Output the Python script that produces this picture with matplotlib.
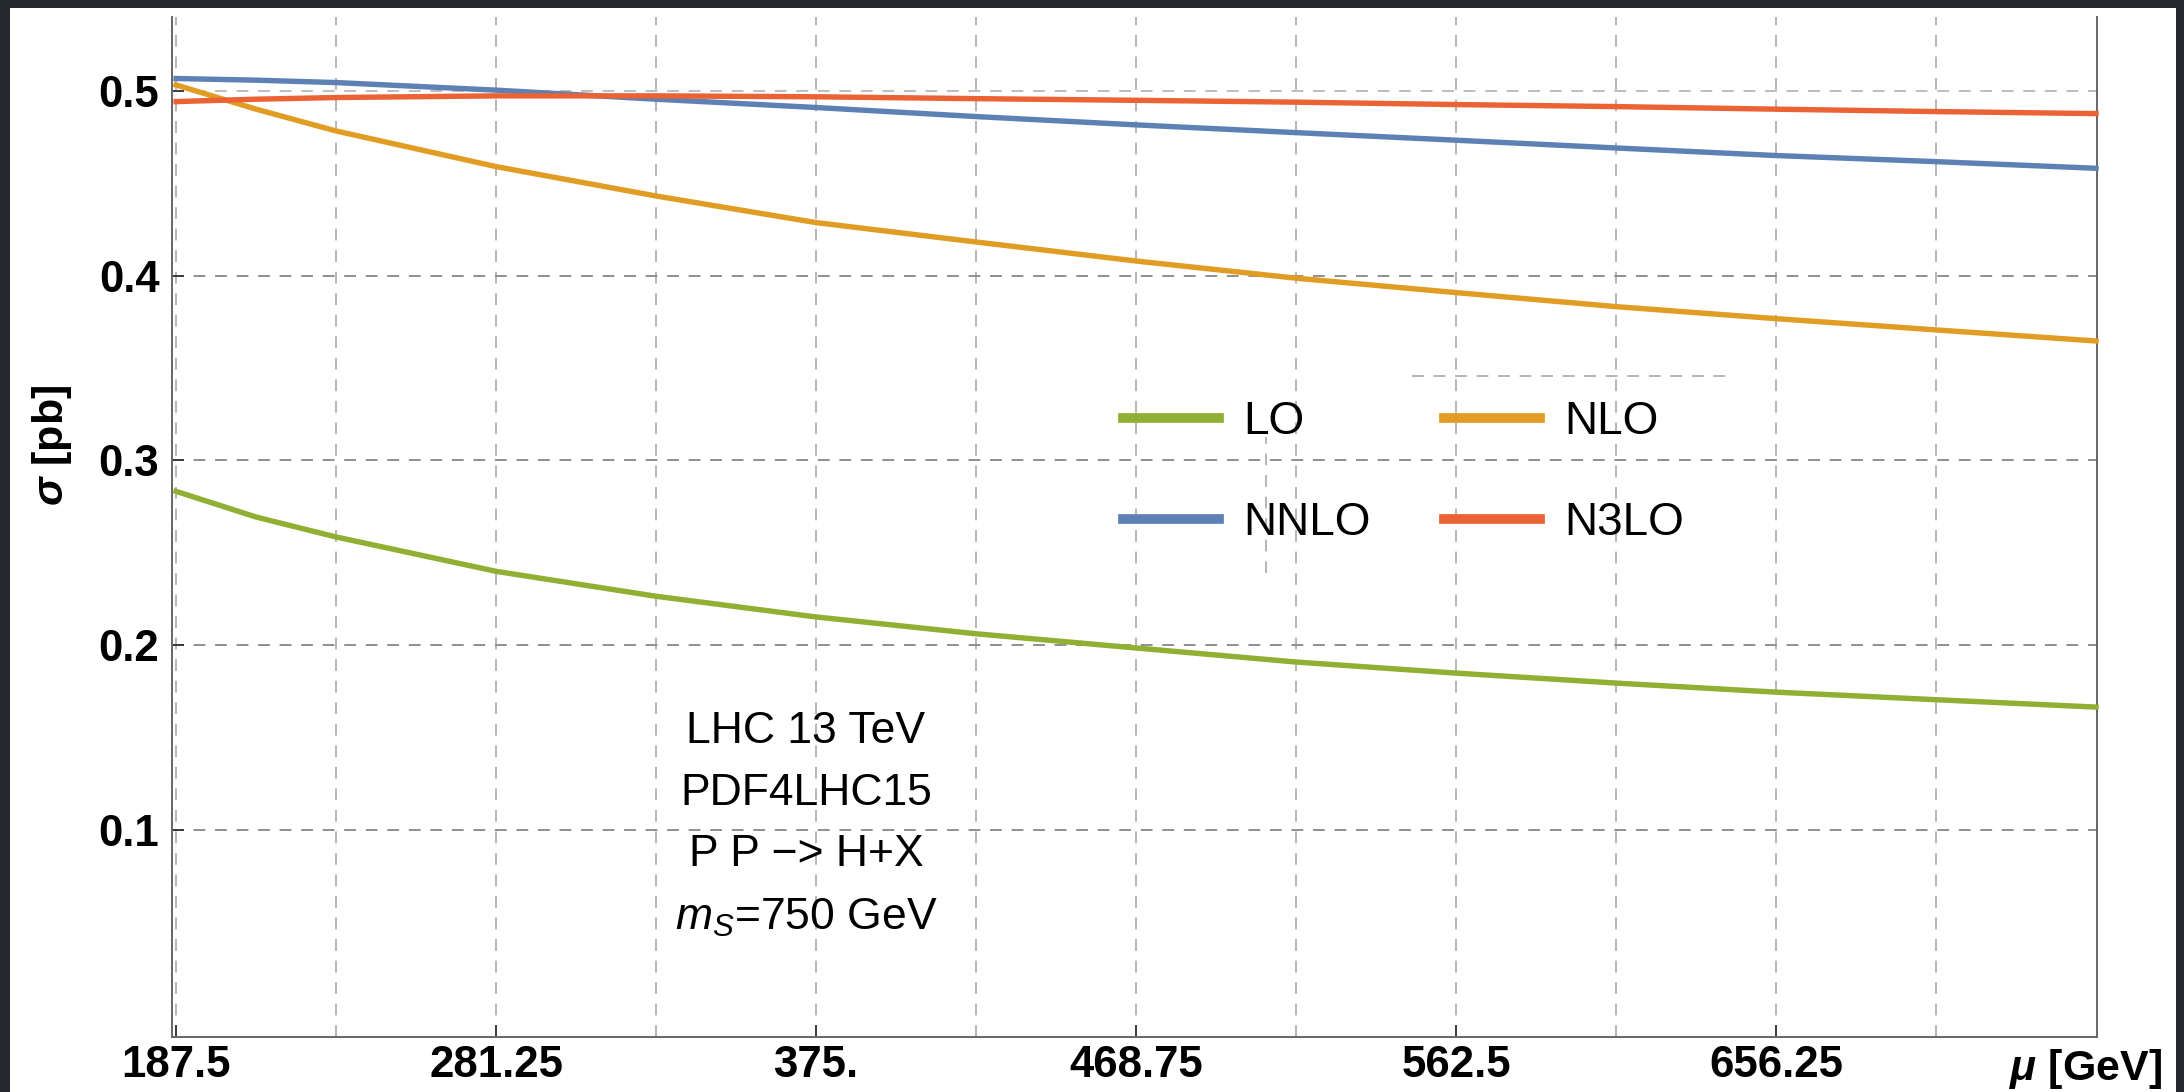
import matplotlib
matplotlib.use("Agg")
import matplotlib.pyplot as plt
from matplotlib.lines import Line2D
from matplotlib.patches import Rectangle

plt.rcParams['font.family'] = ['Liberation Sans', 'DejaVu Sans']
plt.rcParams['mathtext.fontset'] = 'custom'
plt.rcParams['mathtext.rm'] = 'Liberation Sans'
plt.rcParams['mathtext.it'] = 'Liberation Sans:italic'
plt.rcParams['mathtext.bf'] = 'Liberation Sans:italic:bold'
plt.rcParams['lines.scale_dashes'] = False

# scale mu [GeV]
mu = [187.5, 210.9375, 234.375, 281.25, 328.125, 375.0, 421.875, 468.75,
      515.625, 562.5, 609.375, 656.25, 703.125, 750.0]

# cross sections [pb]
lo   = [0.2832, 0.2693, 0.2585, 0.2399, 0.2264, 0.2152, 0.2061, 0.1984,
        0.1908, 0.1848, 0.1794, 0.1745, 0.1704, 0.1664]
nlo  = [0.5032, 0.4901, 0.4783, 0.4590, 0.4431, 0.4287, 0.4182, 0.4079,
        0.3986, 0.3908, 0.3832, 0.3767, 0.3706, 0.3646]
nnlo = [0.5067, 0.5058, 0.5045, 0.5004, 0.4955, 0.4910, 0.4861, 0.4816,
        0.4774, 0.4733, 0.4691, 0.4650, 0.4617, 0.4581]
n3lo = [0.4942, 0.4955, 0.4964, 0.4973, 0.4973, 0.4968, 0.4958, 0.4949,
        0.4939, 0.4926, 0.4915, 0.4901, 0.4888, 0.4877]

series = [("LO", lo, "#8FB032"), ("NLO", nlo, "#E19C24"),
          ("NNLO", nnlo, "#5E81B5"), ("N3LO", n3lo, "#EB6235")]

xticks = [187.5, 281.25, 375.0, 468.75, 562.5, 656.25]
xticklabels = ["187.5", "281.25", "375.", "468.75", "562.5", "656.25"]
xgrid = [187.5 + 46.875 * k for k in range(12)]
yticks = [0.1, 0.2, 0.3, 0.4, 0.5]
yticklabels = ["0.1", "0.2", "0.3", "0.4", "0.5"]

info = ["LHC 13 TeV", "PDF4LHC15", "P P \u2212> H+X", "$m_S$=750 GeV"]

fig = plt.figure(figsize=(21.84, 10.92), dpi=100, facecolor="#25282c")
fig.patches.append(Rectangle((10 / 2184, 0), 2166 / 2184, 1 - 8 / 1092,
                             transform=fig.transFigure, facecolor="white",
                             edgecolor="none", zorder=-1))
ax = fig.add_axes([172 / 2184, 1 - 1037 / 1092, 1925 / 2184, 1020 / 1092])
ax.set_xlim(186.3, 750.3)
ax.set_ylim(-0.0122, 0.540)

# dashed grid
for x in xgrid:
    ax.axvline(x, color="#b5b5b5", lw=1.4, dashes=(8.5, 7), zorder=1)
for y in yticks:
    c = "#bdbdbd" if y == 0.5 else "#8f8f8f"
    ax.axhline(y, color=c, lw=1.4, dashes=(8.5, 7), zorder=1)

# leftover grid bits around the legend
ax.plot([549.6, 642.6], [0.3457, 0.3457], color="#b5b5b5", lw=1.4,
        dashes=(8.5, 7), zorder=1)
ax.plot([506.8, 506.8], [0.2390, 0.3127], color="#b5b5b5", lw=1.4,
        dashes=(8.5, 7), zorder=1)

for name, vals, col in series:
    ax.plot(mu, vals, color=col, lw=3.9, solid_capstyle="projecting",
            clip_on=False, zorder=3)

for s in ["left", "right", "bottom"]:
    ax.spines[s].set_color("#666666")
    ax.spines[s].set_linewidth(1.4)
ax.spines["top"].set_visible(False)

ax.set_xticks(xticks)
ax.set_xticklabels(xticklabels, fontweight="bold", fontsize=31.5)
ax.set_yticks(yticks)
ax.set_yticklabels(yticklabels, fontweight="bold", fontsize=31.5)
ax.tick_params(direction="in", length=8.5, width=1.3, color="#333333")
ax.tick_params(axis="y", pad=9)
ax.tick_params(axis="x", pad=6)

fig.text(52 / 2184, 1 - 445 / 1092, r"$\mathbf{\sigma}$ [pb]", rotation=90,
         ha="center", va="center", fontsize=31, fontweight="bold")
fig.text(2162 / 2184, 1 - 1069 / 1092, r"$\mathbf{\mu}$ [GeV]",
         ha="right", va="center", fontsize=31, fontweight="bold")

ax.text(372, 0.1026, "\n".join(info), ha="center", va="center",
        fontsize=32, linespacing=1.65, zorder=4)

handles = [Line2D([], [], color=col, lw=7) for _, _, col in series]
labels = [name for name, _, _ in series]
order = [0, 2, 1, 3]
fig.legend([handles[i] for i in order], [labels[i] for i in order],
           ncol=2, loc="upper left", bbox_to_anchor=(1123 / 2184, 1 - 400 / 1092),
           frameon=False, fontsize=33, handlelength=2.1, handletextpad=0.52,
           columnspacing=1.6, labelspacing=1.25, borderpad=0, borderaxespad=0)

fig.savefig("out.png", dpi=100, facecolor=fig.get_facecolor())
